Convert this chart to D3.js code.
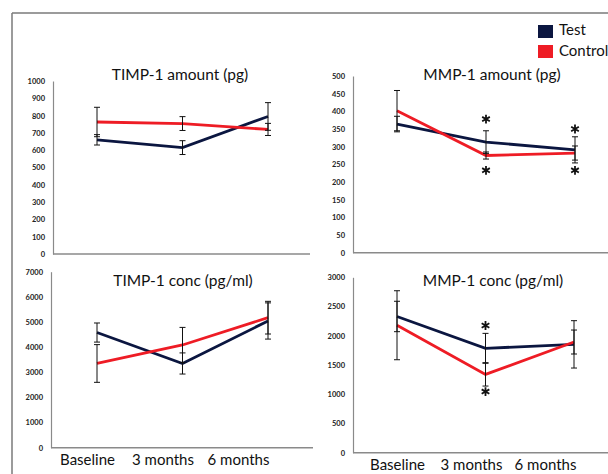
<!DOCTYPE html>
<html><head><meta charset="utf-8">
<script src="https://cdn.jsdelivr.net/npm/d3@7"></script>
<style>body{margin:0;background:#fff}svg{display:block}</style>
</head><body>
<script>
const categories = ["Baseline", "3 months", "6 months"];
const seriesNames = ["Test", "Control"];

const timpAmountTest = [660, 615, 795];
const timpAmountTestErr = [30, 40, 80];
const timpAmountControl = [763, 754, 720];
const timpAmountControlErr = [85, 40, 35];

const mmpAmountTest = [364, 313, 291];
const mmpAmountTestErr = [22, 32, 37];
const mmpAmountControl = [402, 275, 282];
const mmpAmountControlErr = [57, 10, 20];
const mmpAmountStars = [["3 months", 378], ["3 months", 233], ["6 months", 350], ["6 months", 233]];

const timpConcTest = [4580, 3350, 5040];
const timpConcTestErr = [380, 420, 720];
const timpConcControl = [3350, 4085, 5172];
const timpConcControlErr = [750, 700, 650];

const mmpConcTest = [2330, 1785, 1853];
const mmpConcTestErr = [260, 256, 405];
const mmpConcControl = [2180, 1340, 1893];
const mmpConcControlErr = [590, 200, 205];
const mmpConcStars = [["3 months", 2175], ["3 months", 1045]];

const timpAmountTicks = [0,100,200,300,400,500,600,700,800,900,1000];
const mmpAmountTicks = [0,50,100,150,200,250,300,350,400,450,500];
const timpConcTicks = [0,1000,2000,3000,4000,5000,6000,7000];
const mmpConcTicks = [0,500,1000,1500,2000,2500,3000];

const colors = {Test: "#0b1640", Control: "#ee1c25"};
const W = 608, H = 474;
const svg = d3.select("body").append("svg").attr("width", W).attr("height", H);

// outer frame
svg.append("line").attr("x1", 12).attr("x2", W).attr("y1", 13).attr("y2", 13).attr("stroke", "#7a7a7a").attr("stroke-width", 1.5);
svg.append("line").attr("x1", 12).attr("x2", 12).attr("y1", 13).attr("y2", H).attr("stroke", "#7a7a7a").attr("stroke-width", 1.5);

const panels = [
  {title: "TIMP-1 amount (pg)", test: timpAmountTest, testErr: timpAmountTestErr, ctrl: timpAmountControl, ctrlErr: timpAmountControlErr,
   ticks: timpAmountTicks, stars: [], ax: 53, axEnd: 310, y0: 254, y1: 81, px: [97, 268], tx: 180, ty: 80},
  {title: "MMP-1 amount (pg)", test: mmpAmountTest, testErr: mmpAmountTestErr, ctrl: mmpAmountControl, ctrlErr: mmpAmountControlErr,
   ticks: mmpAmountTicks, stars: mmpAmountStars, ax: 353, axEnd: 608, y0: 252.7, y1: 76, px: [397, 575], tx: 492, ty: 80},
  {title: "TIMP-1 conc (pg/ml)", test: timpConcTest, testErr: timpConcTestErr, ctrl: timpConcControl, ctrlErr: timpConcControlErr,
   ticks: timpConcTicks, stars: [], ax: 51, axEnd: 313, y0: 447.7, y1: 271.7, px: [97, 268], tx: 183, ty: 286, labels: [87, 238]},
  {title: "MMP-1 conc (pg/ml)", test: mmpConcTest, testErr: mmpConcTestErr, ctrl: mmpConcControl, ctrlErr: mmpConcControlErr,
   ticks: mmpConcTicks, stars: mmpConcStars, ax: 353, axEnd: 608, y0: 452.7, y1: 277.3, px: [397, 574], tx: 493, ty: 286, labels: [397, 545]}
];

const font = "Lato, 'Open Sans', sans-serif";

panels.forEach(p => {
  const g = svg.append("g");
  const y = d3.scaleLinear().domain([0, d3.max(p.ticks)]).range([p.y0, p.y1]);
  const x = d3.scalePoint().domain(categories).range(p.px);

  // x axis baseline
  g.append("line").attr("x1", p.ax).attr("x2", p.axEnd).attr("y1", p.y0).attr("y2", p.y0)
    .attr("stroke", "#8a8a8a").attr("stroke-width", 1.5);

  const yAxis = g.append("g").attr("transform", `translate(${p.ax},0)`)
    .call(d3.axisLeft(y).tickValues(p.ticks).tickSize(0).tickSizeOuter(0).tickPadding(8).tickFormat(d3.format("d")));
  yAxis.select(".domain").attr("stroke", "#8a8a8a").attr("stroke-width", 1.2);
  yAxis.selectAll("text").attr("font-family", font).attr("font-size", 7.5).attr("font-weight", "bold").attr("fill", "#222");

  g.append("text").attr("x", p.tx).attr("y", p.ty).attr("text-anchor", "middle")
    .attr("font-family", font).attr("font-size", 15.5).attr("fill", "#111").text(p.title);

  const series = [{name: "Test", v: p.test, e: p.testErr}, {name: "Control", v: p.ctrl, e: p.ctrlErr}];
  const line = d3.line().x((d, i) => x(categories[i])).y(d => y(d));

  series.forEach(s => {
    g.append("path").datum(s.v).attr("d", line).attr("fill", "none")
      .attr("stroke", colors[s.name]).attr("stroke-width", 2.8).attr("stroke-linejoin", "miter");
  });

  // error bars
  series.forEach(s => {
    s.v.forEach((v, i) => {
      const cx = x(categories[i]);
      const eg = g.append("g").attr("stroke", "#111").attr("stroke-width", 1);
      eg.append("line").attr("x1", cx).attr("x2", cx).attr("y1", y(v + s.e[i])).attr("y2", y(v - s.e[i]));
      [v + s.e[i], v - s.e[i]].forEach(ev => {
        eg.append("line").attr("x1", cx - 3).attr("x2", cx + 3).attr("y1", y(ev)).attr("y2", y(ev));
      });
    });
  });

  // significance asterisks
  const star = d3.symbol(d3.symbolAsterisk, 55);
  p.stars.forEach(([c, v]) => {
    g.append("path").attr("d", star()).attr("transform", `translate(${x(c)},${y(v)})`)
      .attr("fill", "none").attr("stroke", "#111").attr("stroke-width", 1.8);
  });

  if (p.labels) {
    const lx = d3.scalePoint().domain(categories).range(p.labels);
    const xa = g.append("g").attr("transform", `translate(0,${p.y0})`)
      .call(d3.axisBottom(lx).tickSize(0).tickPadding(7));
    xa.select(".domain").remove();
    xa.selectAll("text").attr("font-family", font).attr("font-size", 15).attr("fill", "#111");
  }
});

// legend
const leg = svg.append("g");
seriesNames.forEach((n, i) => {
  leg.append("rect").attr("x", 538).attr("y", 25 + i * 20).attr("width", 15).attr("height", 13).attr("fill", colors[n]);
  leg.append("text").attr("x", 559).attr("y", 35 + i * 21).attr("font-family", font).attr("font-size", 15).attr("fill", "#111").text(n);
});
</script>
</body></html>
